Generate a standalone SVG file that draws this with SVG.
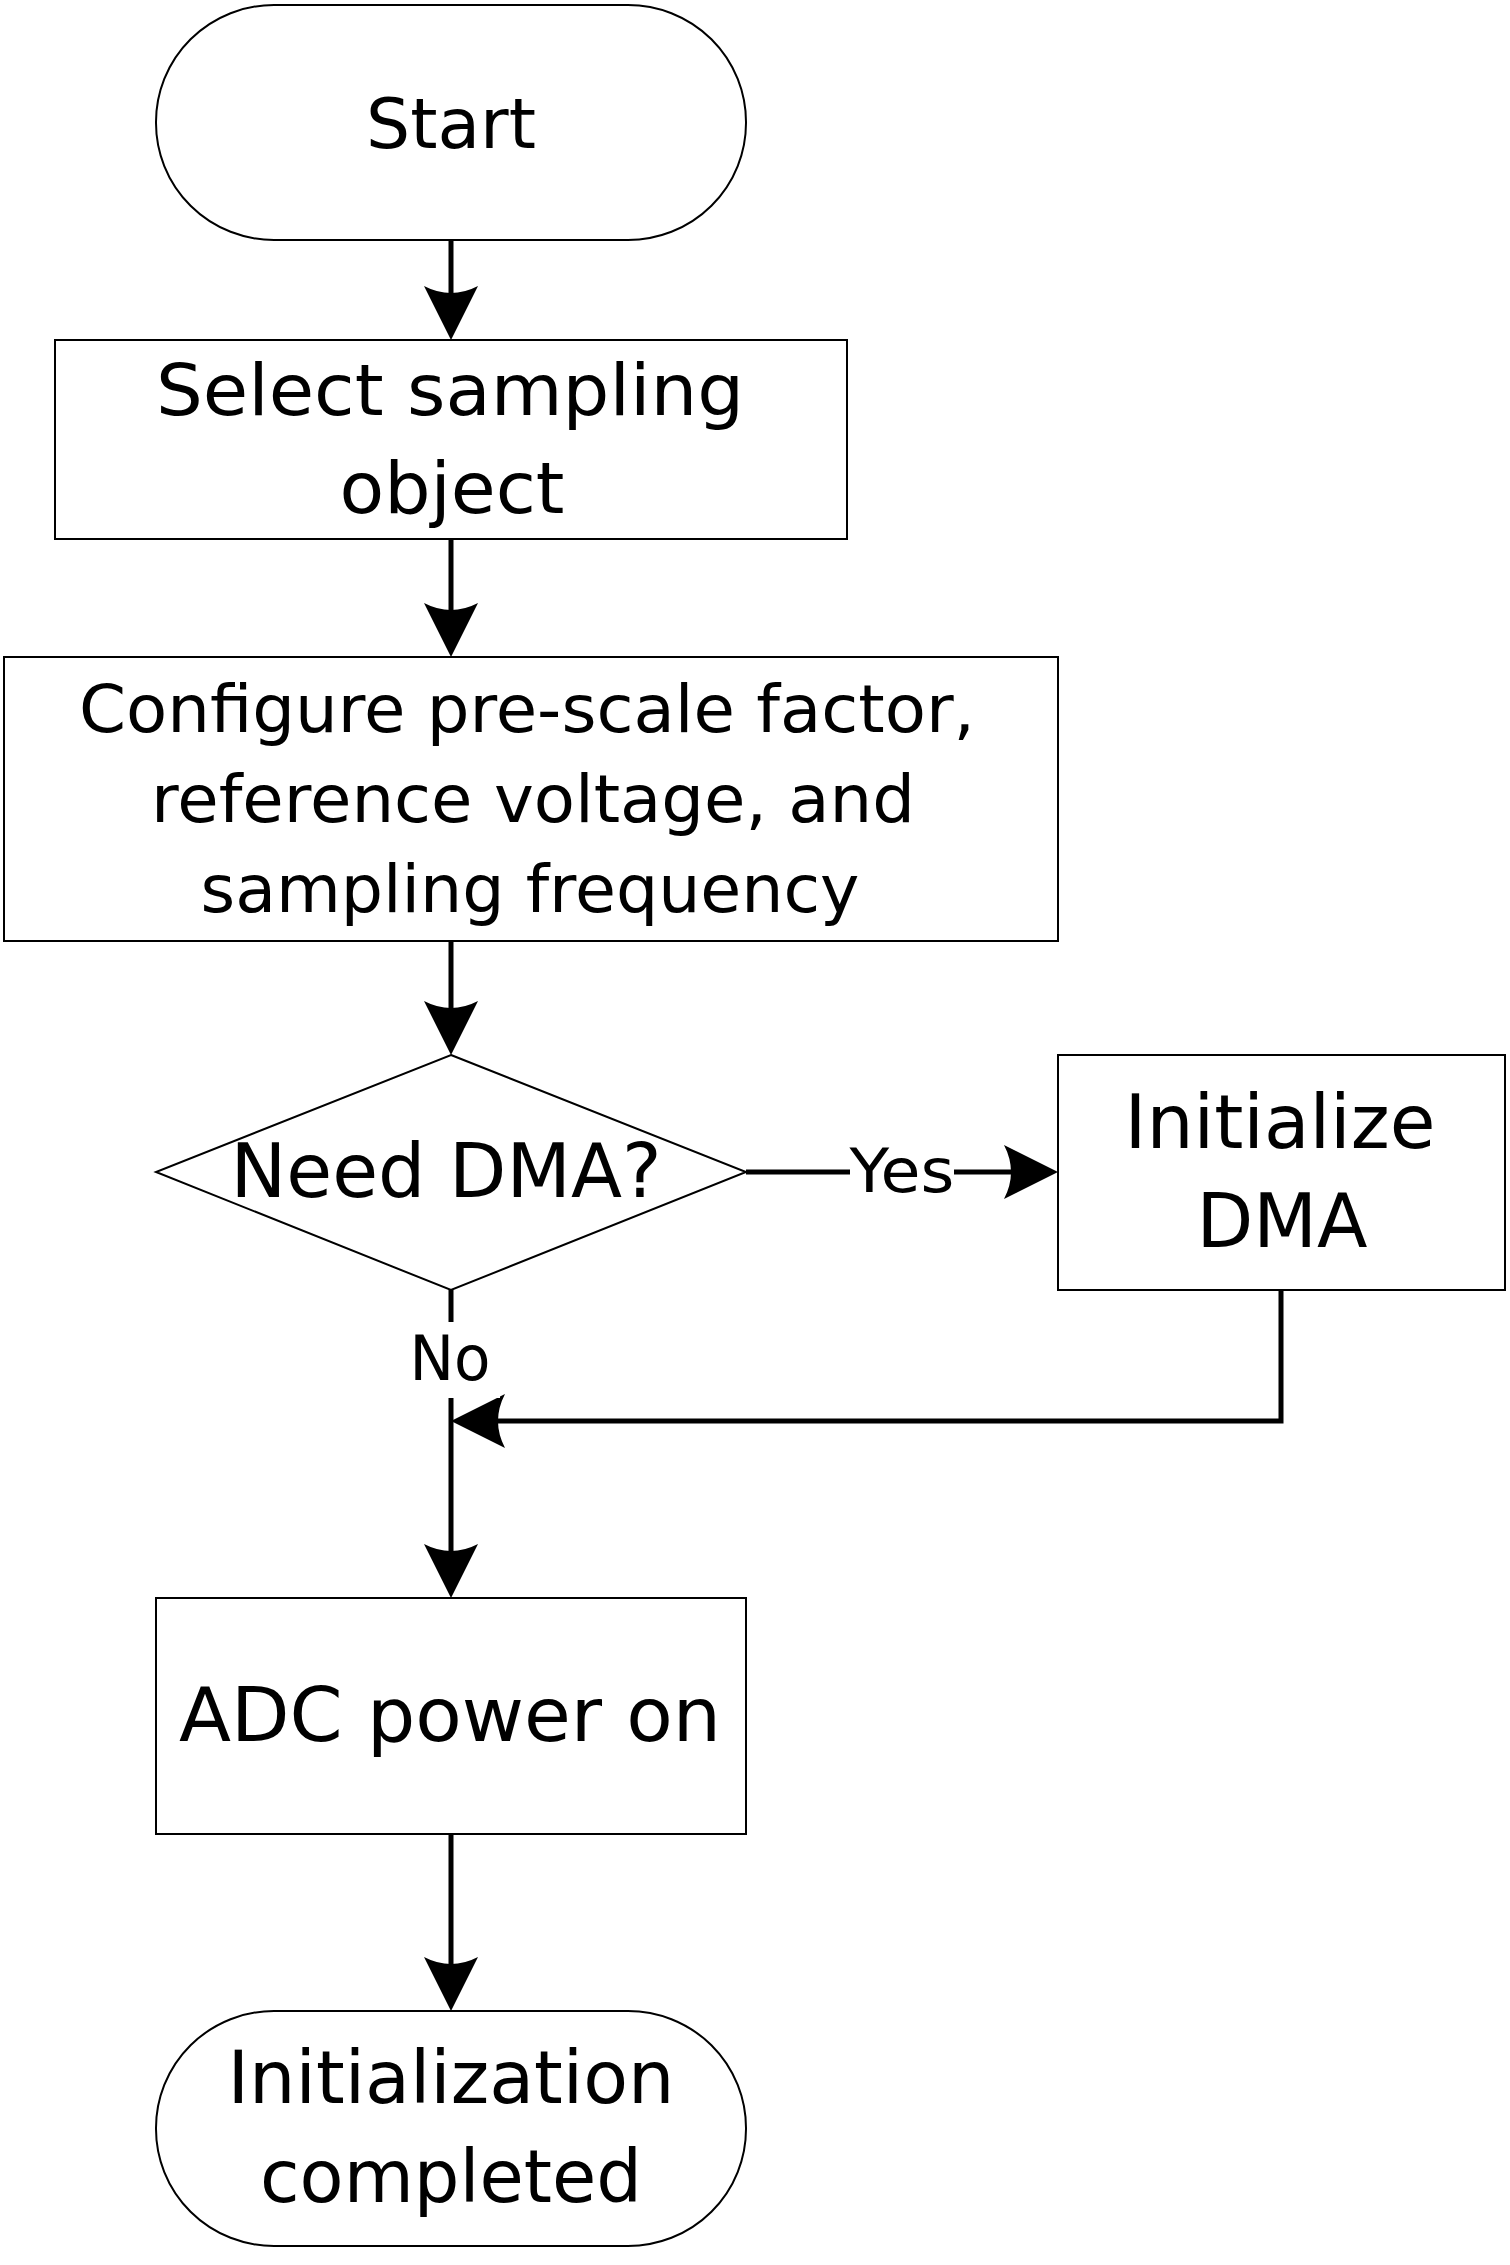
<svg xmlns="http://www.w3.org/2000/svg" width="1510" height="2265" viewBox="0 0 1510 2265">
<style>
.shape{fill:#fff;stroke:#000;stroke-width:2}
.conn{fill:none;stroke:#000;stroke-width:5}
text{font-family:"DejaVu Sans","Liberation Sans",sans-serif;fill:#000;text-anchor:middle}
</style>
<defs>
<marker id="ah" viewBox="0 0 54 54" refX="34" refY="27" markerWidth="54" markerHeight="54" markerUnits="userSpaceOnUse" orient="auto">
<path d="M54,27 L0,0 Q14,27 0,54 Z" fill="#000"/>
</marker>
</defs>
<rect width="1510" height="2265" fill="#fff"/>
<g id="connectors">
<path class="conn" d="M451,240 V320" marker-end="url(#ah)"/>
<path class="conn" d="M451,539 V637" marker-end="url(#ah)"/>
<path class="conn" d="M451,941 V1035" marker-end="url(#ah)"/>
<path class="conn" d="M746,1172 H1038" marker-end="url(#ah)"/>
<path class="conn" d="M451,1290 V1578" marker-end="url(#ah)"/>
<path class="conn" d="M1281,1290 V1421 H471" marker-end="url(#ah)"/>
<path class="conn" d="M451,1834 V1991" marker-end="url(#ah)"/>
<rect x="850" y="1140" width="104" height="64" fill="#fff"/>
<text x="902" y="1192" font-size="60" textLength="105" lengthAdjust="spacingAndGlyphs">Yes</text>
<rect x="400" y="1322" width="100" height="76" fill="#fff"/>
<text x="450" y="1380" font-size="62" textLength="81" lengthAdjust="spacingAndGlyphs">No</text>
</g>
<g id="start">
<rect class="shape" x="156" y="5" width="590" height="235" rx="118" ry="117"/>
<text x="451" y="148" font-size="70" textLength="170" lengthAdjust="spacingAndGlyphs">Start</text>
</g>
<g id="select">
<rect class="shape" x="55" y="340" width="792" height="199"/>
<text x="450" y="415" font-size="71" textLength="588" lengthAdjust="spacingAndGlyphs">Select sampling</text>
<text x="452" y="513" font-size="71" textLength="225" lengthAdjust="spacingAndGlyphs">object</text>
</g>
<g id="configure">
<rect class="shape" x="4" y="657" width="1054" height="284"/>
<text x="527" y="732" font-size="66" textLength="896" lengthAdjust="spacingAndGlyphs">Configure pre-scale factor,</text>
<text x="533" y="822" font-size="66" textLength="764" lengthAdjust="spacingAndGlyphs">reference voltage, and</text>
<text x="530" y="912" font-size="66" textLength="659" lengthAdjust="spacingAndGlyphs">sampling frequency</text>
</g>
<g id="need-dma">
<polygon class="shape" points="451,1055 746,1172 451,1290 156,1172"/>
<text x="446" y="1197" font-size="74" textLength="431" lengthAdjust="spacingAndGlyphs">Need DMA?</text>
</g>
<g id="init-dma">
<rect class="shape" x="1058" y="1055" width="447" height="235"/>
<text x="1280" y="1148" font-size="75" textLength="311" lengthAdjust="spacingAndGlyphs">Initialize</text>
<text x="1282" y="1247" font-size="75" textLength="171" lengthAdjust="spacingAndGlyphs">DMA</text>
</g>
<g id="adc-power">
<rect class="shape" x="156" y="1598" width="590" height="236"/>
<text x="450" y="1741" font-size="75" textLength="542" lengthAdjust="spacingAndGlyphs">ADC power on</text>
</g>
<g id="done">
<rect class="shape" x="156" y="2011" width="590" height="235" rx="118" ry="117"/>
<text x="451" y="2103" font-size="73" textLength="447" lengthAdjust="spacingAndGlyphs">Initialization</text>
<text x="451" y="2202" font-size="73" textLength="382" lengthAdjust="spacingAndGlyphs">completed</text>
</g>
</svg>
